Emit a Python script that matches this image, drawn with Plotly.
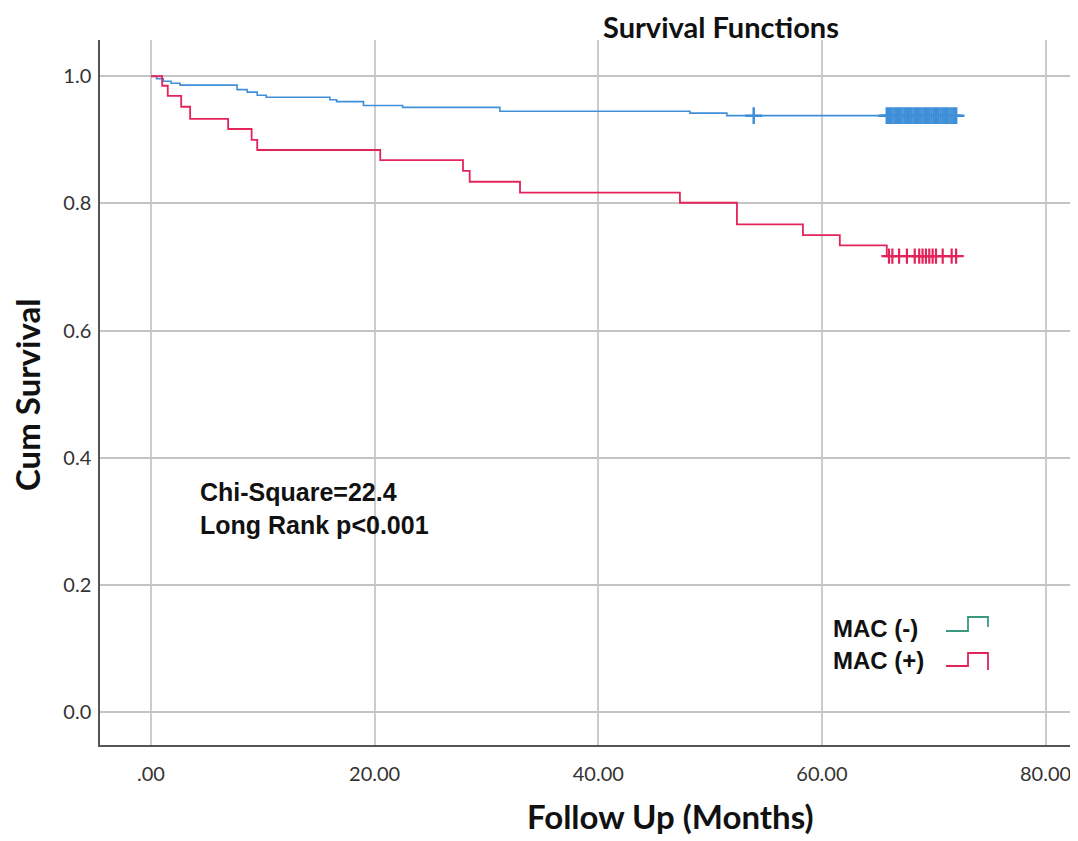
import plotly.graph_objects as go

# Kaplan-Meier step data
time_neg = [0, 0.5, 1.1, 1.8, 2.6, 7.7, 8.6, 9.5, 10.3, 16.0, 16.6, 19.0, 22.5, 31.2, 48.2, 51.5, 72.1]
surv_neg = [1.0, 0.996, 0.992, 0.989, 0.986, 0.979, 0.975, 0.970, 0.967, 0.963, 0.960, 0.954, 0.951, 0.945, 0.942, 0.938, 0.938]

time_pos = [0, 1.0, 1.5, 2.7, 3.5, 6.9, 9.0, 9.5, 20.5, 27.9, 28.5, 33.0, 47.3, 52.4, 58.3, 61.6, 65.8, 72.1]
surv_pos = [1.0, 0.985, 0.969, 0.952, 0.933, 0.917, 0.900, 0.884, 0.868, 0.851, 0.834, 0.817, 0.801, 0.767, 0.750, 0.734, 0.717, 0.717]

# censored cases
cens_neg_t = [53.9, 65.8, 66.0, 66.2, 66.4, 66.6, 66.8, 67.0, 67.2, 67.4, 67.6, 67.8, 68.0, 68.2, 68.4,
              68.6, 68.8, 69.0, 69.2, 69.4, 69.6, 69.8, 70.0, 70.2, 70.4, 70.6, 70.8, 71.0, 71.2, 71.4,
              71.6, 71.8, 72.0]
cens_neg_s = [0.938] * len(cens_neg_t)
cens_pos_t = [66.0, 66.3, 66.9, 67.6, 68.3, 68.7, 69.0, 69.3, 69.6, 69.9, 70.2, 70.8, 71.6, 72.0]
cens_pos_s = [0.717] * len(cens_pos_t)

x_ticks = [0, 20, 40, 60, 80]
x_labels = ['.00', '20.00', '40.00', '60.00', '80.00']
y_ticks = [0, 0.2, 0.4, 0.6, 0.8, 1.0]
y_labels = ['0.0', '0.2', '0.4', '0.6', '0.8', '1.0']

blue = '#3f8fd8'
red = '#e3245a'
OFF = 8  # page margin around the figure div
W, H = 1078 - OFF, 841 - OFF
L, R, T, B = 100 - OFF, 0, 40 - OFF, 96


def px_x(p):
    # page pixel -> paper coordinate
    return (p - OFF - L) / (W - L - R)


def px_y(p):
    return (H - B - (p - OFF)) / (H - T - B)


fig = go.Figure()
fig.add_trace(go.Scatter(x=time_neg, y=surv_neg, mode='lines', line=dict(color=blue, width=1.6, shape='hv'),
                         name='MAC (-)'))
fig.add_trace(go.Scatter(x=time_pos, y=surv_pos, mode='lines', line=dict(color=red, width=1.8, shape='hv'),
                         name='MAC (+)'))
fig.add_trace(go.Scatter(x=cens_neg_t, y=cens_neg_s, mode='markers',
                         marker=dict(symbol='cross-thin-open', size=12, color=blue,
                                     line=dict(color=blue, width=2.5))))
fig.add_trace(go.Scatter(x=cens_pos_t, y=cens_pos_s, mode='markers',
                         marker=dict(symbol='cross-thin-open', size=11, color=red,
                                     line=dict(color=red, width=2.2))))

tick_font = dict(family='Lato', size=20, color='#333333')
fig.update_xaxes(range=[-4.56, 82.9], tickvals=x_ticks, ticktext=x_labels, showgrid=True,
                 gridcolor='#cccccc', gridwidth=1.5, zeroline=False, showline=True, linecolor='#555555',
                 linewidth=1.5, ticks='', ticklabelstandoff=10, tickfont=tick_font)
fig.update_yaxes(range=[-0.052, 1.057], tickvals=y_ticks, ticktext=y_labels, showgrid=True,
                 gridcolor='#c4c4c4', gridwidth=1.8, zeroline=False, showline=True, linecolor='#555555',
                 linewidth=1.5, ticks='', ticklabelstandoff=3, tickfont=tick_font)

fig.add_annotation(text='<b>Survival Functions</b>', xref='paper', yref='paper', x=px_x(721), y=px_y(OFF),
                   xanchor='center', yanchor='top', showarrow=False, borderpad=0,
                   font=dict(family='Lato', size=29, color='#111111'))
fig.add_annotation(text='<b>Follow Up (Months)</b>', xref='paper', yref='paper', x=px_x(670), y=px_y(816),
                   xanchor='center', yanchor='middle', showarrow=False,
                   font=dict(family='Lato', size=33, color='#111111'))
fig.add_annotation(text='<b>Cum Survival</b>', xref='paper', yref='paper', x=px_x(27), y=px_y(395),
                   xanchor='center', yanchor='middle', showarrow=False, textangle=-90,
                   font=dict(family='Lato', size=33, color='#111111'))

note_font = dict(family='Liberation Sans', size=25, color='#111111')
fig.add_annotation(text='<b>Chi-Square=22.4<br>Long Rank p<0.001</b>', xref='paper', yref='paper',
                   x=px_x(198), y=px_y(508), xanchor='left', yanchor='middle', align='left',
                   showarrow=False, font=note_font)

# legend drawn in SPSS style: label then step sample
leg_font = dict(family='Liberation Sans', size=24, color='#111111')
fig.add_annotation(text='<b>MAC (-)</b>', xref='paper', yref='paper', x=px_x(831), y=px_y(628),
                   xanchor='left', yanchor='middle', showarrow=False, font=leg_font)
fig.add_annotation(text='<b>MAC (+)</b>', xref='paper', yref='paper', x=px_x(831), y=px_y(660),
                   xanchor='left', yanchor='middle', showarrow=False, font=leg_font)
for color, base, top, end in [('#3a9a80', 631, 617, 627), (red, 666, 653, 670)]:
    path = 'M {} {} L {} {} L {} {} L {} {} L {} {}'.format(
        px_x(946), px_y(base), px_x(968), px_y(base), px_x(968), px_y(top),
        px_x(988), px_y(top), px_x(988), px_y(end))
    fig.add_shape(type='path', path=path, xref='paper', yref='paper', line=dict(color=color, width=1.8))

fig.update_layout(width=W, height=H, margin=dict(l=L, r=R, t=T, b=B), showlegend=False,
                  plot_bgcolor='white', paper_bgcolor='white')

fig.write_html("out.html")
